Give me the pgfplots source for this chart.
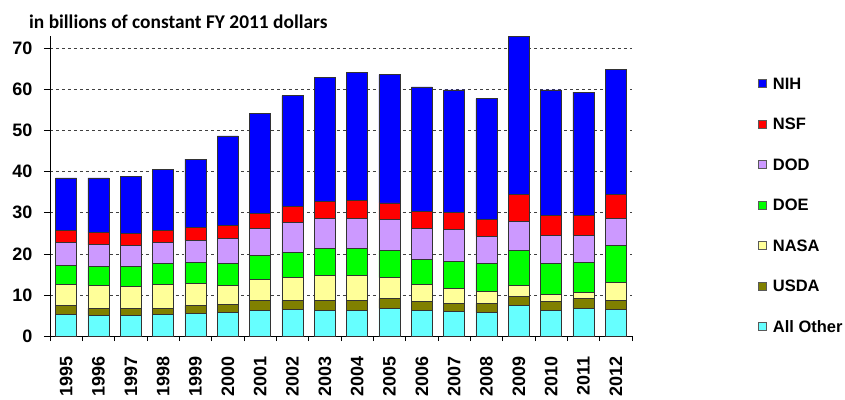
\documentclass[border=0pt]{standalone}
\usepackage{pgfplots}
\pgfplotsset{compat=1.18}
\usepackage{pgfplotstable}
\usepackage{fontspec}
\setmainfont{Liberation Sans}
\newfontfamily\titlefont{Carlito}
\definecolor{cNIH}{RGB}{0,0,255}
\definecolor{cNSF}{RGB}{255,0,0}
\definecolor{cDOD}{RGB}{204,153,255}
\definecolor{cDOE}{RGB}{0,255,0}
\definecolor{cNASA}{RGB}{255,255,153}
\definecolor{cUSDA}{RGB}{128,128,0}
\definecolor{cAO}{RGB}{102,255,255}
\pgfplotstableread{
x AO USDA NASA DOE DOD NSF NIH
0 5.27 2.10 5.19 4.62 5.51 3.08 12.72
1 5.02 1.71 5.59 4.54 5.34 3.08 13.21
2 5.02 1.71 5.34 4.79 5.10 3.00 13.86
3 5.27 1.46 5.83 5.03 5.10 3.08 14.75
4 5.51 1.86 5.43 5.03 5.35 3.32 16.53
5 5.75 1.87 4.70 5.27 6.15 3.25 21.71
6 6.24 2.35 5.27 5.75 6.65 3.56 24.39
7 6.48 2.11 5.75 6.08 7.13 4.05 26.90
8 6.24 2.35 6.24 6.40 7.29 4.14 30.22
9 6.24 2.35 6.24 6.40 7.29 4.38 31.28
10 6.73 2.35 5.10 6.57 7.53 4.13 31.19
11 6.24 2.11 4.21 6.16 7.54 4.05 30.29
12 6.08 1.94 3.65 6.56 7.62 4.30 29.74
13 5.75 2.11 3.08 6.73 6.56 4.13 29.42
14 7.54 2.18 2.68 8.35 7.13 6.56 38.46
15 6.24 2.27 1.62 7.54 6.88 4.79 30.55
16 6.73 2.35 1.54 7.21 6.72 4.79 29.98
17 6.48 2.11 4.54 8.91 6.48 5.92 30.47
}\data
\begin{document}
\begin{tikzpicture}
\useasboundingbox (-50bp,-64bp) rectangle (795bp,336bp);
\begin{axis}[
  at={(0,0)}, anchor=south west,
  scale only axis, width=582bp, height=300bp,
  ybar stacked, bar width=0.65,
  xmin=-0.5, xmax=17.5, ymin=0, ymax=73,
  xtick={0,...,17},
  xticklabels={1995,1996,1997,1998,1999,2000,2001,2002,2003,2004,2005,2006,2007,2008,2009,2010,2011,2012},
  major x tick style={draw=none},
  minor xtick={-0.5,0.5,...,17.5},
  ytick={0,10,...,70},
  axis x line*=bottom, axis y line*=left,
  axis line style={black, line width=0.8bp},
  tick align=outside, tick style={black, line width=0.6bp},
  major tick length=6bp, minor tick length=5bp,
  ymajorgrids, grid style={dashed, black!75, line width=0.6bp},
  ticklabel style={font=\fontsize{18bp}{20bp}\selectfont\bfseries},
  /pgf/number format/assume math mode=true,
  yticklabel style={xshift=-8bp},
  x tick label style={rotate=90, anchor=east},
  xticklabel shift=11bp,
  reverse legend,
  legend cell align=left,
  legend style={at={(1.211,0.437)}, anchor=west, draw=none, fill=none,
    font=\fontsize{16.5bp}{18bp}\selectfont\bfseries,
    row sep=25.5bp, nodes={text height=12bp, text depth=0bp, inner sep=1.5bp}},
  legend image code/.code={\draw[#1, draw=gray!70!black, line width=0.8bp] (0bp,-4bp) rectangle (8bp,4bp); \path[draw=none, fill=none] (0bp,0bp) rectangle (13bp,0.1bp);},
]
\addplot[fill=cAO, draw=black!80, line width=0.6bp] table[x=x,y=AO]{\data};
\addlegendentry{All Other}
\addplot[fill=cUSDA, draw=black!80, line width=0.6bp] table[x=x,y=USDA]{\data};
\addlegendentry{USDA}
\addplot[fill=cNASA, draw=black!80, line width=0.6bp] table[x=x,y=NASA]{\data};
\addlegendentry{NASA}
\addplot[fill=cDOE, draw=black!80, line width=0.6bp] table[x=x,y=DOE]{\data};
\addlegendentry{DOE}
\addplot[fill=cDOD, draw=black!80, line width=0.6bp] table[x=x,y=DOD]{\data};
\addlegendentry{DOD}
\addplot[fill=cNSF, draw=black!80, line width=0.6bp] table[x=x,y=NSF]{\data};
\addlegendentry{NSF}
\addplot[fill=cNIH, draw=black!80, line width=0.6bp] table[x=x,y=NIH]{\data};
\addlegendentry{NIH}
\end{axis}
\node[anchor=west, inner sep=0pt, font=\titlefont\bfseries\fontsize{19.4bp}{21bp}\selectfont] at (-21bp,314bp) {in billions of constant FY 2011 dollars};
\end{tikzpicture}
\end{document}
